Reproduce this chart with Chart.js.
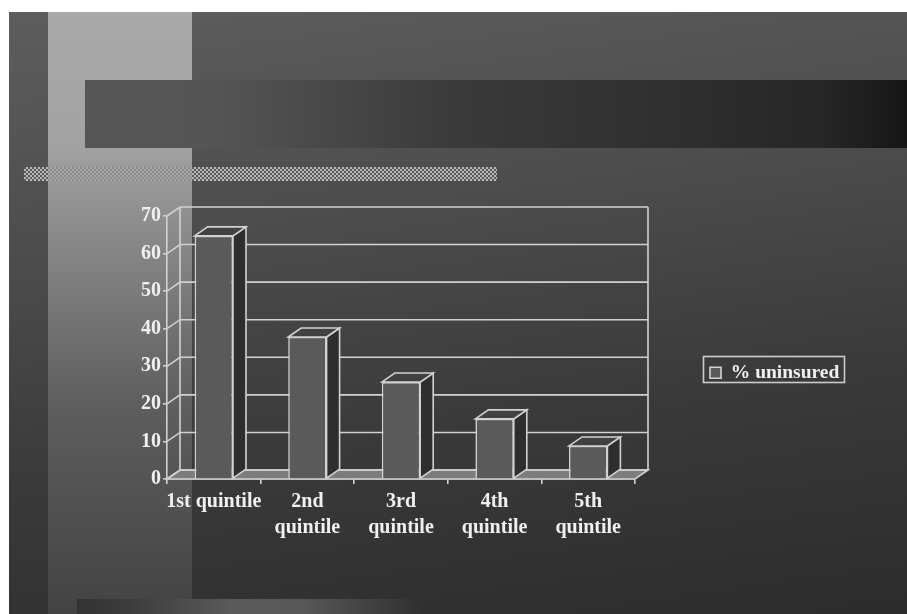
<!DOCTYPE html>
<html><head><meta charset="utf-8">
<script src="https://cdn.jsdelivr.net/npm/chart.js@4"></script>
<style>
html,body{margin:0;padding:0;background:#fff;width:907px;height:614px;overflow:hidden}
#slide{position:absolute;left:9px;top:12px;width:898px;height:602px;overflow:hidden;background:linear-gradient(172deg,#5d5d5d 0%,#4c4c4c 35%,#3a3a3a 65%,#2c2c2c 100%)}
#strip{position:absolute;left:39px;top:0;width:144px;height:602px;background:linear-gradient(180deg,#a9a9a9 0%,#a2a2a2 22%,#858585 40%,#5e5e5e 65%,#434343 100%)}
#band{position:absolute;left:76px;top:68px;width:822px;height:68px;background:linear-gradient(90deg,#565656 0%,#555 15%,#3a3a3a 45%,#303030 70%,#262626 90%,#161616 100%)}
#dots{position:absolute;left:15px;top:155px;width:473px;height:14px;background-color:#6a6a6a;background-image:repeating-conic-gradient(#b8b8b8 0 25%,#5a5a5a 0 50%);background-size:4px 4px}
#dots2{position:absolute;left:39px;top:155px;width:144px;height:14px;background:rgba(160,160,160,.72)}
#foot{position:absolute;left:68px;top:587px;width:345px;height:15px;background:linear-gradient(90deg,#333 0%,#3c3c3c 15%,#5a5a5a 45%,#585858 65%,#3c3c3c 90%,#303030 100%)}
canvas{position:absolute;left:0;top:0}
</style></head>
<body>
<div id="slide"><div id="strip"></div><div id="band"></div><div id="dots"></div><div id="dots2"></div><div id="foot"></div></div>
<canvas id="c" width="907" height="614"></canvas>
<script>
const categories = [['1st quintile'], ['2nd', 'quintile'], ['3rd', 'quintile'], ['4th', 'quintile'], ['5th', 'quintile']];
const seriesName = '% uninsured';
const uninsured = [64.7, 37.8, 25.8, 16, 8.8];
const yTicksMax = 70;
const yStep = 10;

const depthX = 13, depthY = -9;
const lineCol = '#d2d2d2';
const serif = '"Liberation Serif", serif';

const box3d = {
  id: 'box3d',
  afterLayout(chart) {
    const l = chart.legend;
    l.left = 703; l.right = 845; l.top = 356; l.bottom = 383;
    l.width = 142; l.height = 27;
  },
  beforeDatasetsDraw(chart) {
    const { ctx, chartArea: a, scales: { y } } = chart;
    const ln = (pts, w) => {
      ctx.beginPath();
      pts.forEach((p, i) => i ? ctx.lineTo(p[0], p[1]) : ctx.moveTo(p[0], p[1]));
      ctx.lineWidth = w || 1.6; ctx.strokeStyle = lineCol; ctx.stroke();
    };
    ctx.save();
    ctx.beginPath();
    ctx.moveTo(a.left, a.bottom); ctx.lineTo(a.left + depthX, a.bottom + depthY);
    ctx.lineTo(a.right + depthX, a.bottom + depthY); ctx.lineTo(a.right, a.bottom); ctx.closePath();
    ctx.fillStyle = '#7c7c7c'; ctx.fill(); ctx.lineWidth = 1.6; ctx.strokeStyle = lineCol; ctx.stroke();
    for (let v = 0; v <= yTicksMax; v += yStep) {
      const py = y.getPixelForValue(v);
      ln([[a.left, py], [a.left + depthX, py + depthY], [a.right + depthX, py + depthY]]);
    }
    ln([[a.left + depthX, y.getPixelForValue(0) + depthY], [a.left + depthX, y.getPixelForValue(yTicksMax) + depthY]]);
    ln([[a.right + depthX, y.getPixelForValue(0) + depthY], [a.right + depthX, y.getPixelForValue(yTicksMax) + depthY]]);
    chart.getDatasetMeta(0).data.forEach(b => {
      const hw = b.width / 2, L = b.x - hw, R = b.x + hw, T = b.y, B = b.base;
      ctx.beginPath();
      ctx.moveTo(R, T); ctx.lineTo(R + depthX, T + depthY); ctx.lineTo(R + depthX, B + depthY); ctx.lineTo(R, B); ctx.closePath();
      ctx.fillStyle = '#2e2e2e'; ctx.fill(); ctx.lineWidth = 1.6; ctx.strokeStyle = lineCol; ctx.stroke();
      ctx.beginPath();
      ctx.moveTo(L, T); ctx.lineTo(L + depthX, T + depthY); ctx.lineTo(R + depthX, T + depthY); ctx.lineTo(R, T); ctx.closePath();
      ctx.fillStyle = '#414141'; ctx.fill(); ctx.stroke();
    });
    ctx.restore();
  },
  afterDraw(chart) {
    const { ctx } = chart, l = chart.legend;
    ctx.save();
    ctx.lineWidth = 1.6; ctx.strokeStyle = '#cccccc';
    ctx.strokeRect(l.left + .5, l.top + .5, l.width - 1, l.height - 1);
    ctx.restore();
  }
};

new Chart(document.getElementById('c'), {
  type: 'bar',
  data: {
    labels: categories,
    datasets: [{
      label: seriesName,
      data: uninsured,
      backgroundColor: '#5a5a5a',
      borderColor: lineCol,
      borderWidth: 1.6,
      barPercentage: 0.41,
      categoryPercentage: 1
    }]
  },
  plugins: [box3d],
  options: {
    responsive: false,
    animation: false,
    devicePixelRatio: 1,
    layout: { padding: { left: 0, top: 216, right: 272, bottom: 0 } },
    plugins: {
      tooltip: { enabled: false },
      legend: {
        position: 'chartArea',
        align: 'start',
        labels: {
          color: '#f0f0f0', boxWidth: 11, boxHeight: 11, padding: 7,
          font: { family: serif, size: 19.5, weight: 'bold' }
        }
      }
    },
    scales: {
      x: {
        afterFit(s) { s.height = 135; },
        border: { color: lineCol, width: 1.6 },
        grid: { drawOnChartArea: false, drawTicks: true, tickLength: 5, color: lineCol, lineWidth: 1.6 },
        ticks: {
          color: '#f0f0f0', maxRotation: 0, minRotation: 0, autoSkip: false, padding: 5,
          font: { family: serif, size: 20, weight: 'bold', lineHeight: 1.3 }
        }
      },
      y: {
        min: 0, max: yTicksMax,
        afterFit(s) { s.width = 167; },
        border: { color: lineCol, width: 1.6 },
        grid: { drawOnChartArea: false, drawTicks: true, tickLength: 4, color: lineCol, lineWidth: 1.6 },
        ticks: {
          stepSize: yStep, color: '#f0f0f0', padding: 2,
          font: { family: serif, size: 20, weight: 'bold' }
        }
      }
    }
  }
});
</script>
</body></html>
